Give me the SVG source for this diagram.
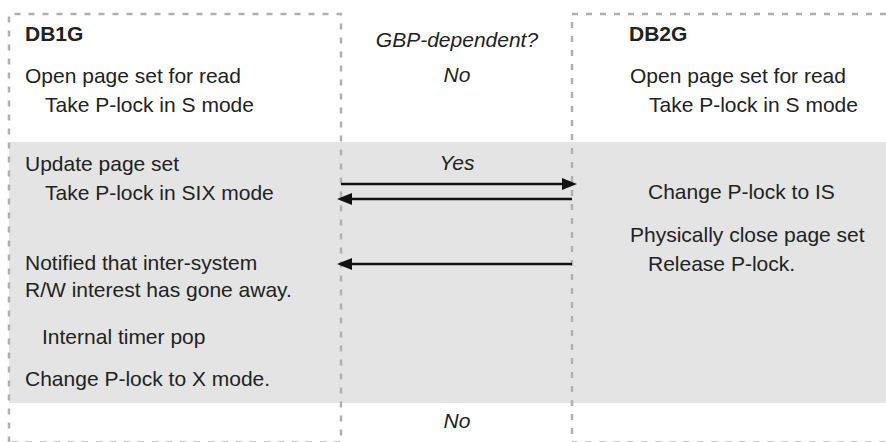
<svg xmlns="http://www.w3.org/2000/svg" width="886" height="442" viewBox="0 0 886 442">
<style>
  .t { font-family: "Liberation Sans", Arial, Helvetica, sans-serif; font-size: 21px; fill: #222; }
  .b { font-weight: bold; }
  .i { font-style: italic; text-anchor: middle; }
  .dash { fill: none; stroke: #b0b0b0; stroke-width: 2.5; stroke-dasharray: 6 8; }
  .conn { stroke: #111; stroke-width: 2.5; fill: none; }
</style>
<defs>
  <marker id="ah" markerUnits="userSpaceOnUse" markerWidth="16" markerHeight="14" refX="11" refY="6.5" orient="auto">
    <path d="M0,0.5 L15,6.5 L0,12.5 z" fill="#111"/>
  </marker>
</defs>
<rect x="0" y="0" width="886" height="442" fill="#ffffff"/>
<rect id="band" x="9" y="142" width="877" height="261" fill="#e4e4e4"/>
<g id="frames">
  <path class="dash" d="M9,442.5 L9,14 L341,14 L341,442.5 L9,442.5"/>
  <path class="dash" d="M900,14 L572,14 L572,442.5 L900,442.5"/>
</g>
<g id="DB1G">
  <text class="t b" x="25" y="41">DB1G</text>
  <text class="t" x="25" y="83">Open page set for read</text>
  <text class="t" x="45" y="112">Take P-lock in S mode</text>
  <text class="t" x="25" y="171">Update page set</text>
  <text class="t" x="45" y="200">Take P-lock in SIX mode</text>
  <text class="t" x="25" y="270">Notified that inter-system</text>
  <text class="t" x="25" y="297">R/W interest has gone away.</text>
  <text class="t" x="42" y="344">Internal timer pop</text>
  <text class="t" x="25" y="386">Change P-lock to X mode.</text>
</g>
<g id="GBP">
  <text class="t i" x="457" y="47">GBP-dependent?</text>
  <text class="t i" x="457" y="82">No</text>
  <text class="t i" x="457" y="170">Yes</text>
  <text class="t i" x="457" y="428">No</text>
</g>
<g id="DB2G">
  <text class="t b" x="629" y="41">DB2G</text>
  <text class="t" x="630" y="83">Open page set for read</text>
  <text class="t" x="649" y="112">Take P-lock in S mode</text>
  <text class="t" x="648" y="199">Change P-lock to IS</text>
  <text class="t" x="630" y="242">Physically close page set</text>
  <text class="t" x="648" y="271">Release P-lock.</text>
</g>
<g id="connectors">
  <line class="conn" x1="341" y1="184" x2="573" y2="184" marker-end="url(#ah)"/>
  <line class="conn" x1="572" y1="199" x2="341" y2="199" marker-end="url(#ah)"/>
  <line class="conn" x1="572" y1="264" x2="341" y2="264" marker-end="url(#ah)"/>
</g>
</svg>
